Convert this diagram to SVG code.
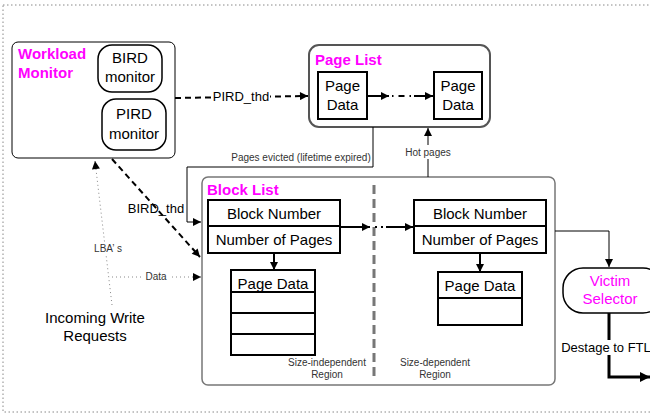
<svg xmlns="http://www.w3.org/2000/svg" width="650" height="418" viewBox="0 0 650 418">
<defs>
<marker id="ah" viewBox="0 0 10 10" refX="10" refY="5" markerWidth="10" markerHeight="8" markerUnits="userSpaceOnUse" orient="auto"><path d="M0,0 L10,5 L0,10 z" fill="#000"/></marker>
<marker id="ahs" viewBox="0 0 10 10" refX="10" refY="5" markerWidth="12" markerHeight="10" markerUnits="userSpaceOnUse" orient="auto"><path d="M0,0 L10,5 L0,10 z" fill="#000"/></marker>
<style>
text{font-family:"Liberation Sans",Arial,sans-serif;fill:#000}
.t{font-size:15px;text-anchor:middle}
.s{font-size:10px;fill:#333;text-anchor:middle}
.m{font-size:15px;font-weight:bold;fill:#FF00FF}
.bx{fill:#fff;stroke:#000;stroke-width:2}
.rb{fill:#fff;stroke:#000;stroke-width:1.5}
.ln{fill:none;stroke:#000;stroke-width:1}
.lnb{fill:none;stroke:#000;stroke-width:2}
.dsh{fill:none;stroke:#000;stroke-width:2;stroke-dasharray:6,4}
.dot{fill:none;stroke:#888;stroke-width:1;stroke-dasharray:1,3}
</style>
</defs>
<rect x="3" y="5" width="700" height="407" fill="none" stroke="#888" stroke-width="1" stroke-dasharray="1.5,2.5"/>

<g id="workload-monitor">
<rect x="12" y="42" width="163" height="116" rx="6" fill="#fff" stroke="#000" stroke-width="1"/>
<text class="m" x="18" y="59">Workload</text>
<text class="m" x="18" y="78">Monitor</text>
</g>
<g id="bird-monitor">
<rect x="98" y="45" width="64" height="47" rx="14" class="rb"/>
<text class="t" x="130" y="63">BIRD</text>
<text class="t" x="130" y="82">monitor</text>
</g>
<g id="pird-monitor">
<rect x="102" y="99" width="64" height="51" rx="14" class="rb"/>
<text class="t" x="134" y="119">PIRD</text>
<text class="t" x="134" y="139">monitor</text>
</g>

<g id="page-list">
<rect x="309" y="45" width="181" height="82" rx="10" fill="#fff" stroke="#555" stroke-width="2"/>
<text class="m" x="315" y="65">Page List</text>
</g>
<g id="page-data-1">
<rect x="318" y="72" width="49" height="47" class="bx"/>
<text class="t" x="342.5" y="91">Page</text>
<text class="t" x="342.5" y="110">Data</text>
</g>
<g id="page-data-2">
<rect x="434" y="72" width="48" height="47" class="bx"/>
<text class="t" x="458" y="91">Page</text>
<text class="t" x="458" y="110">Data</text>
</g>

<g id="block-list">
<rect x="202" y="177" width="353" height="208" rx="6" fill="#fff" stroke="#777" stroke-width="1.5"/>
<text class="m" x="207" y="195">Block List</text>
<line x1="374" y1="185" x2="374" y2="379" stroke="#777" stroke-width="3" stroke-dasharray="9,5"/>
<text class="s" x="327" y="366">Size-independent</text>
<text class="s" x="327" y="378">Region</text>
<text class="s" x="435" y="366">Size-dependent</text>
<text class="s" x="435" y="378">Region</text>
</g>
<g id="block-header-1">
<rect x="208" y="200" width="132" height="53" class="bx"/>
<line x1="208" y1="226" x2="340" y2="226" stroke="#000" stroke-width="2"/>
<text class="t" x="274" y="219">Block Number</text>
<text class="t" x="274" y="245">Number of Pages</text>
</g>
<g id="page-stack-1">
<rect x="231" y="270" width="84" height="85" class="bx"/>
<line x1="231" y1="292" x2="315" y2="292" stroke="#000" stroke-width="2"/>
<line x1="231" y1="313" x2="315" y2="313" stroke="#000" stroke-width="2"/>
<line x1="231" y1="334" x2="315" y2="334" stroke="#000" stroke-width="2"/>
<text class="t" x="273" y="289">Page Data</text>
</g>
<g id="block-header-2">
<rect x="414" y="200" width="132" height="53" class="bx"/>
<line x1="414" y1="226" x2="546" y2="226" stroke="#000" stroke-width="2"/>
<text class="t" x="480" y="219">Block Number</text>
<text class="t" x="480" y="245">Number of Pages</text>
</g>
<g id="page-stack-2">
<rect x="438" y="272" width="84" height="53" class="bx"/>
<line x1="438" y1="298" x2="522" y2="298" stroke="#000" stroke-width="2"/>
<text class="t" x="480" y="291">Page Data</text>
</g>

<g id="victim-selector">
<rect x="563" y="268" width="100" height="45" rx="20" fill="#fff" stroke="#000" stroke-width="1.5"/>
<text class="t" x="610" y="286" style="fill:#FF00FF">Victim</text>
<text class="t" x="610" y="304" style="fill:#FF00FF">Selector</text>
</g>

<g id="incoming">
<text class="t" x="95" y="323">Incoming Write</text>
<text class="t" x="95" y="341">Requests</text>
</g>

<g id="connectors">
<path d="M175,98 L308,96" class="dsh" marker-end="url(#ah)"/>
<rect x="212" y="89" width="58" height="14" fill="#fff"/>
<text x="241" y="101" style="font-size:13px;text-anchor:middle">PIRD_thd</text>
<path d="M367,96 L389,96" class="lnb" marker-end="url(#ah)"/>
<path d="M392,96 L412,96" fill="none" stroke="#000" stroke-width="2" stroke-dasharray="1.5,5,6,5"/>
<path d="M414,96 L433,96" class="lnb" marker-end="url(#ah)"/>
<path d="M373,127 L373,167 L187,167 L187,222 L201,222" class="ln" marker-end="url(#ah)"/>
<text x="301" y="161" style="font-size:10px;fill:#333;text-anchor:middle">Pages evicted (lifetime expired)</text>
<path d="M428,177 L428,128" class="ln" marker-end="url(#ah)"/>
<rect x="403" y="145" width="50" height="14" fill="#fff"/>
<text x="428" y="156" style="font-size:10px;fill:#333;text-anchor:middle">Hot pages</text>
<path d="M112,159 L200,257" class="dsh" marker-end="url(#ah)"/>
<text x="156" y="213" style="font-size:13px;text-anchor:middle">BIRD_thd</text>
<path d="M112,305 L95,161" class="dot" marker-end="url(#ah)"/>
<rect x="88" y="243" width="40" height="12" fill="#fff"/>
<text x="108" y="252" style="font-size:10px;fill:#333;text-anchor:middle">LBA’ s</text>
<path d="M112,277 L201,277" class="dot" marker-end="url(#ah)"/>
<rect x="143" y="270" width="26" height="12" fill="#fff"/>
<text x="156" y="280" style="font-size:10px;fill:#333;text-anchor:middle">Data</text>
<path d="M274,253 L274,270" class="lnb" marker-end="url(#ah)"/>
<path d="M480,253 L480,272" class="lnb" marker-end="url(#ah)"/>
<path d="M340,227 L370,227" class="lnb" marker-end="url(#ah)"/>
<path d="M375,227 L386,227" fill="none" stroke="#000" stroke-width="2" stroke-dasharray="2,4"/>
<path d="M386,227 L413,227" class="lnb" marker-end="url(#ah)"/>
<path d="M555,231 L609,231 L609,267" class="ln" marker-end="url(#ah)"/>
<path d="M609,313 L609,377 L650,377" fill="none" stroke="#000" stroke-width="3" marker-end="url(#ahs)"/>
<rect x="563" y="340" width="87" height="15" fill="#fff"/>
<text x="606" y="352" style="font-size:13px;text-anchor:middle">Destage to FTL</text>
</g>
</svg>
